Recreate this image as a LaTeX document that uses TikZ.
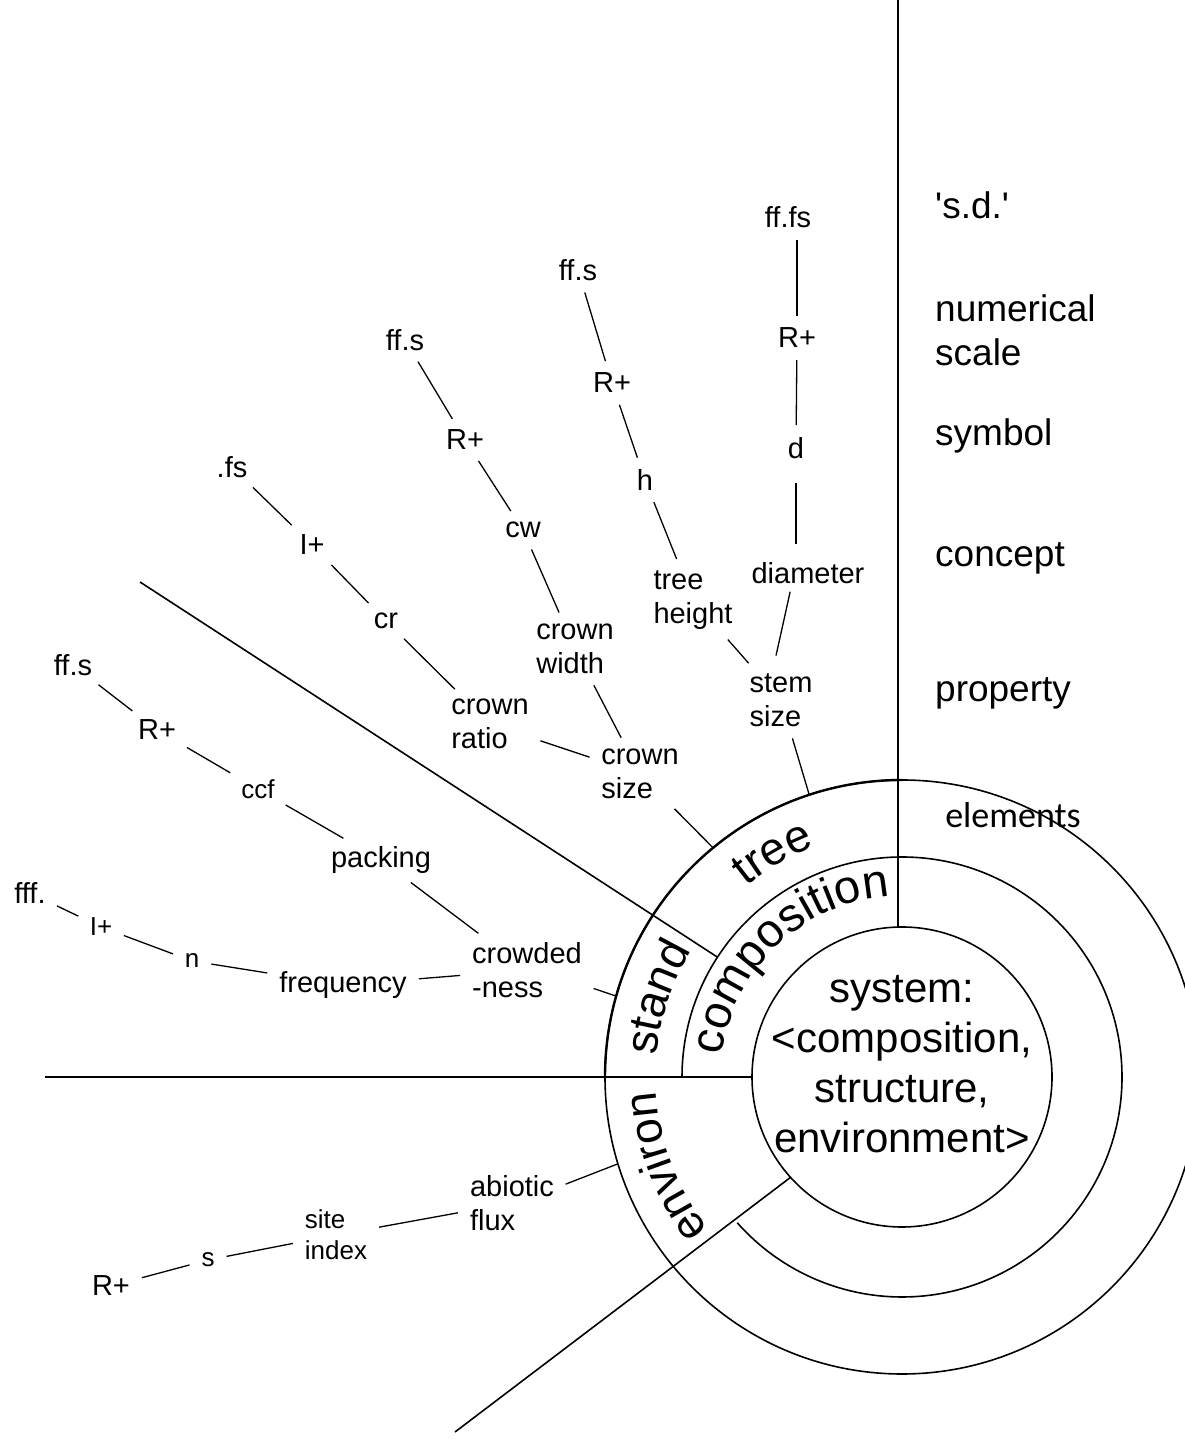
\documentclass[tikz,border=0pt]{standalone}
\usepackage{fontspec}
\setmainfont{Liberation Sans}
\newfontfamily\notefont{Carlito}
\usetikzlibrary{calc,decorations.text}

\newcommand\ringfont{\fontsize{46}{50}\selectfont}
\newcommand\compfont{\fontsize{47}{50}\selectfont}

\tikzset{
  lbl/.style={font=\fontsize{29}{34}\selectfont, inner sep=4pt, align=left},
  sml/.style={lbl, font=\fontsize{26}{31}\selectfont},
  levelname/.style={font=\fontsize{37}{44}\selectfont, anchor=west, align=left, inner sep=0pt},
  link/.style={line width=1.3pt, shorten <=8pt, shorten >=8pt},
  rim/.style={line width=1.6pt},
  ringtext/.style={decorate, decoration={text along path, text align=center, text={#1}}}
}

\begin{document}
\begin{tikzpicture}[x=1pt, y=1pt]
\useasboundingbox (0,0) rectangle (1184,1440);
\coordinate (C) at (902,363);

% rings
\draw[rim] (C) circle (150);
\draw[rim] ($(C)+(180:220)$) arc (180:-138.5:220);
\draw[rim] (C) circle (297);
\draw[rim, line width=2.4pt] ($(C)+(90:297)$) arc (90:180:297);

% dividing lines
\coordinate (top) at (898,1440);
\coordinate (topin) at (898,513);
\coordinate (left) at (45,363);
\coordinate (leftin) at ($(C)+(180:150)$);
\coordinate (ul) at (140,858);
\coordinate (ulin) at ($(C)+(147:220)$);
\coordinate (ll) at (455,8);
\coordinate (llin) at ($(C)+(222:150)$);
\draw[rim] (top) -- (topin);
\draw[rim] (left) -- (leftin);
\draw[rim] (ul) -- (ulin);
\draw[rim] (ll) -- (llin);

% ends on the outer ring
\coordinate (tA) at ($(C)+(108.2:297)$);
\coordinate (tC) at ($(C)+(129.5:297)$);
\coordinate (tE) at ($(C)+(164.2:297)$);
\coordinate (tG) at ($(C)+(197:297)$);

% ring names
\path[ringtext={|\ringfont|tree}] ($(C)+(140:246)$) arc (140:100:246);
\path[ringtext={|\ringfont|stand}] ($(C)+(180:246)$) arc (180:144:246);
\path[ringtext={|\compfont|composition}] ($(C)+(178:181)$) arc (178:89:181);
\path[ringtext={|\ringfont|environ}] ($(C)+(221:246)$) arc (221:180.6:246);

\node[font=\fontsize{42}{50}\selectfont, align=center] (system) at (902,376)
  {system:\\<composition,\\structure,\\environment>};
\node[font=\fontsize{36}{40}\notefont] (elements) at (1013,625) {elements};

% levels
\node[levelname] (sd) at (935,1235) {\textquotesingle s.d.\textquotesingle};
\node[levelname] (scale) at (935,1110) {numerical\\scale};
\node[levelname] (symbol) at (935,1004) {symbol};
\node[levelname] (concept) at (935,882) {concept};
\node[levelname] (property) at (935,747) {property};

% stem size
\node[lbl] (ffA) at (788,1223) {ff.fs};
\node[lbl] (RA) at (797,1102) {R+};
\node[lbl] (dA) at (796,992) {d};
\node[lbl] (diam) at (808,867) {diameter};
\node[lbl] (stem) at (781,740) {stem\\size};
\node[lbl] (ffB) at (578,1170) {ff.s};
\node[lbl] (RB) at (612,1057) {R+};
\node[lbl] (hB) at (645,960) {h};
\node[lbl] (treeh) at (693,840) {tree\\height};

\draw[link] (RA |- ffA.south) -- (RA);
\draw[link] (RA) -- (dA);
\draw[link, shorten <=20pt, shorten >=14pt] (dA) -- (dA |- diam.north);
\draw[link, shorten <=4pt, shorten >=14pt] (diam.south) ++(-17,0) -- ($(stem.north)+(-8,0)$);
\draw[link, shorten >=0pt] (stem) -- (tA);
\draw[link] (ffB) -- (RB);
\draw[link] (RB) -- (hB);
\draw[link] (hB) -- (treeh);
\draw[link] (treeh) -- (stem);

% crown size
\node[lbl] (ffC) at (405,1100) {ff.s};
\node[lbl] (RC) at (465,1000) {R+};
\node[lbl] (cwC) at (523,910) {cw};
\node[lbl] (crownw) at (575,791) {crown\\width};
\node[lbl] (crowns) at (640,666) {crown\\size};
\node[lbl] (fsD) at (232,973) {.fs};
\node[lbl] (ID) at (312,895) {I+};
\node[lbl] (crD) at (386,819) {cr};
\node[lbl] (crownr) at (490,716) {crown\\ratio};

\draw[link] (ffC) -- (RC);
\draw[link] (RC) -- (cwC);
\draw[link] (cwC) -- (crownw);
\draw[link] (crownw) -- (crowns);
\draw[link, shorten >=0pt] (crowns) -- (tC);
\draw[link] (fsD) -- (ID);
\draw[link] (ID) -- (crD);
\draw[link] (crD) -- (crownr);
\draw[link] (crownr) -- (crowns);

% crowdedness
\node[lbl] (ffE) at (73,775) {ff.s};
\node[lbl] (RE) at (157,710) {R+};
\node[sml] (ccf) at (258,651) {ccf};
\node[lbl] (packing) at (381,580) {packing};
\node[lbl] (crowd) at (527,470) {crowded\\-ness};
\node[lbl] (fffF) at (30,547) {fff.};
\node[sml] (IF) at (101,513) {I+};
\node[sml] (nF) at (192,479) {n};
\node[lbl] (freq) at (343,455) {frequency};

\draw[link] (ffE) -- (RE);
\draw[link] (RE) -- (ccf);
\draw[link] (ccf) -- (packing);
\draw[link] (packing) -- (crowd);
\draw[link, shorten >=0pt] ($(crowd.east)!0.5!(crowd.south east)$) -- (tE);
\draw[link] (fffF) -- (IF);
\draw[link] (IF) -- (nF);
\draw[link] (nF) -- (freq);
\draw[link] (freq) -- (crowd);

% environment
\node[lbl] (RG) at (111,154) {R+};
\node[sml] (sG) at (208,180) {s};
\node[sml] (site) at (336,205) {site\\index};
\node[lbl] (abiotic) at (512,237) {abiotic\\flux};

\draw[link] (RG) -- (sG);
\draw[link] (sG) -- (site);
\draw[link] (site) -- (abiotic);
\draw[link, shorten >=0pt] ($(abiotic.east)!0.5!(abiotic.north east)$) -- (tG);
\end{tikzpicture}
\end{document}
